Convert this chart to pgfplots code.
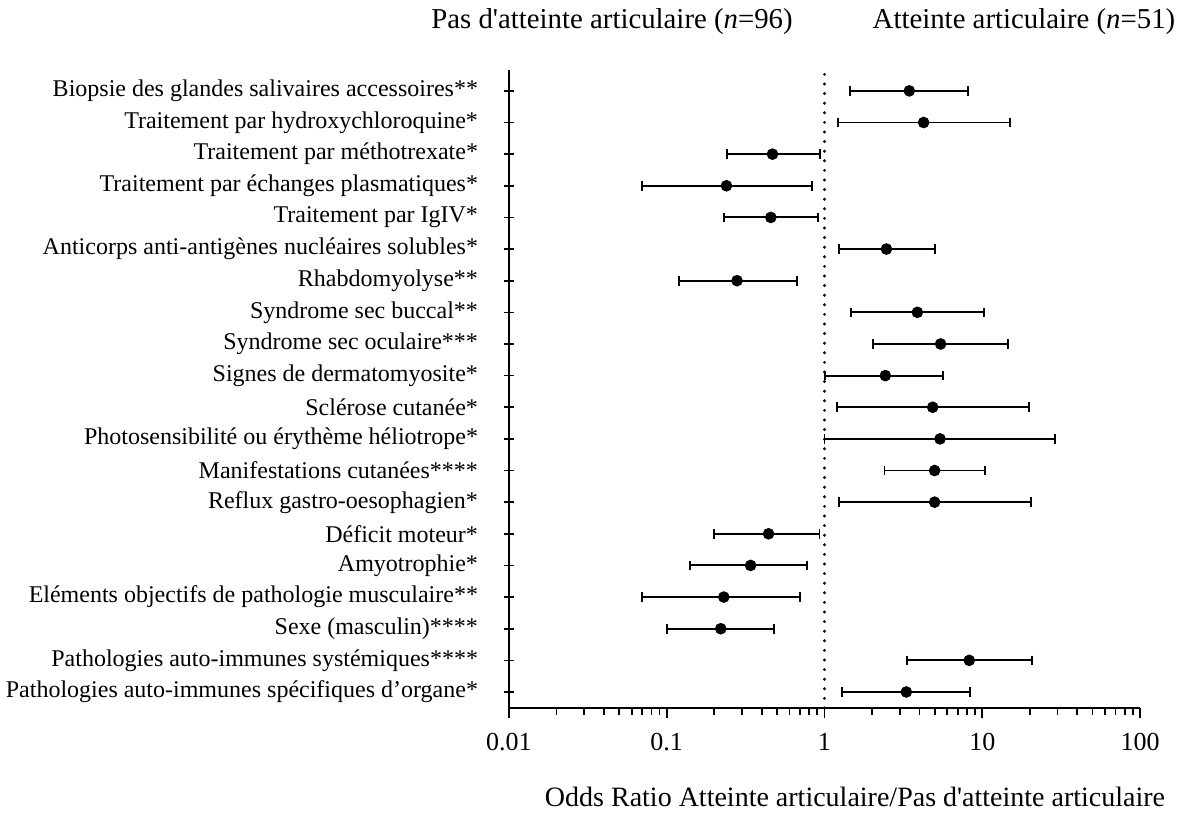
\documentclass[border=0pt]{standalone}
\usepackage{fontspec}
\setmainfont{Liberation Serif}
\usepackage{pgfplots}
\pgfplotsset{compat=1.18}
\begin{document}
\begin{tikzpicture}
\useasboundingbox (-254.5bp,-55.5bp) rectangle (334.5bp,354bp);
\begin{axis}[
  at={(0,0)}, anchor=south west,
  scale only axis, width=315.5bp, height=319bp,
  xmode=log, xmin=0.01, xmax=100, ymin=0.494, ymax=20.66,
  axis x line*=bottom, axis y line*=left,
  axis line style={line width=1bp},
  xtick={0.01,0.1,1,10,100},
  xticklabels={0.01,0.1,1,10,100},
  minor xtick={0.02,0.03,0.04,0.05,0.06,0.07,0.08,0.09,0.2,0.3,0.4,0.5,0.6,0.7,0.8,0.9,2,3,4,5,6,7,8,9,20,30,40,50,60,70,80,90},
  xtick align=outside, ytick align=center,
  major tick length=5bp, minor tick length=3.5bp,
  every tick/.style={black, line width=0.8bp},
  ytick={1,...,20},
  yticklabels={Pathologies auto-immunes spécifiques d’organe*,
    Pathologies auto-immunes systémiques****,
    Sexe (masculin)****,
    Eléments objectifs de pathologie musculaire**,
    Amyotrophie*,
    Déficit moteur*,
    Reflux gastro-oesophagien*,
    Manifestations cutanées****,
    Photosensibilité ou érythème héliotrope*,
    Sclérose cutanée*,
    Signes de dermatomyosite*,
    Syndrome sec oculaire***,
    Syndrome sec buccal**,
    Rhabdomyolyse**,
    Anticorps anti-antigènes nucléaires solubles*,
    Traitement par IgIV*,
    Traitement par échanges plasmatiques*,
    Traitement par méthotrexate*,
    Traitement par hydroxychloroquine*,
    Biopsie des glandes salivaires accessoires**},
  yticklabel style={font=\fontsize{12bp}{13bp}\selectfont, xshift=-9.5bp},
  xticklabel style={font=\fontsize{13bp}{14bp}\selectfont, yshift=-4bp},
  clip=false,
  whisk/.style={black, line width=0.95bp, mark=|, mark size=2.4bp, mark options={line width=0.95bp}},
]
\addplot[black, line width=1.6bp, line cap=round, dash pattern=on 0bp off 4.8bp] coordinates {(1,0.494) (1,20.66)};
\addplot[whisk] coordinates {(1.45,20) (8.15,20)};
\addplot[whisk] coordinates {(1.21,19) (15.0,19)};
\addplot[whisk] coordinates {(0.24,18) (0.94,18)};
\addplot[whisk] coordinates {(0.0696,17) (0.835,17)};
\addplot[whisk] coordinates {(0.23,16) (0.907,16)};
\addplot[whisk] coordinates {(1.23,15) (4.99,15)};
\addplot[whisk] coordinates {(0.12,14) (0.67,14)};
\addplot[whisk] coordinates {(1.48,13) (10.2,13)};
\addplot[whisk] coordinates {(2.02,12) (14.5,12)};
\addplot[whisk] coordinates {(1.01,11) (5.64,11)};
\addplot[whisk] coordinates {(1.20,10) (19.8,10)};
\addplot[whisk] coordinates {(1.0,9) (29.0,9)};
\addplot[whisk] coordinates {(2.4,8) (10.4,8)};
\addplot[whisk] coordinates {(1.23,7) (20.3,7)};
\addplot[whisk] coordinates {(0.199,6) (0.93,6)};
\addplot[whisk] coordinates {(0.14,5) (0.777,5)};
\addplot[whisk] coordinates {(0.070,4) (0.70,4)};
\addplot[whisk] coordinates {(0.10,3) (0.48,3)};
\addplot[whisk] coordinates {(3.35,2) (20.8,2)};
\addplot[whisk] coordinates {(1.29,1) (8.4,1)};
\addplot[only marks, mark=*, mark size=2.7bp, black] coordinates {
(3.45,20) (4.25,19) (0.468,18) (0.239,17) (0.457,16) (2.47,15) (0.279,14)
(3.88,13) (5.45,12) (2.43,11) (4.85,10) (5.4,9) (4.99,8) (4.99,7)
(0.442,6) (0.34,5) (0.23,4) (0.22,3) (8.27,2) (3.30,1)};
\end{axis}
\node[font=\fontsize{14.4bp}{16bp}\selectfont] at (51.5bp,343bp) {Pas d\textquotesingle atteinte articulaire (\textit{n}=96)};
\node[font=\fontsize{14.4bp}{16bp}\selectfont] at (257.5bp,343bp) {Atteinte articulaire (\textit{n}=51)};
\node[font=\fontsize{14bp}{16bp}\selectfont] at (173bp,-44.5bp) {Odds Ratio Atteinte articulaire/Pas d\textquotesingle atteinte articulaire};
\end{tikzpicture}
\end{document}
